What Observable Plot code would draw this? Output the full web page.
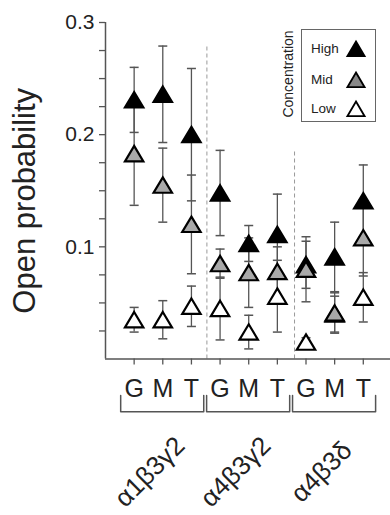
<!DOCTYPE html>
<html><head><meta charset="utf-8">
<script src="https://cdn.jsdelivr.net/npm/d3@7"></script>
<script src="https://cdn.jsdelivr.net/npm/@observablehq/plot@0.6"></script>
<style>
body{margin:0;background:#fff;}
#wrap{position:relative;width:390px;height:515px;font-family:"Liberation Sans",Arial,sans-serif;color:#222;}
#wrap svg{overflow:visible;}
#legend{position:absolute;left:301px;top:29px;width:75px;height:93px;border:1px solid #666;box-sizing:border-box;background:#fff;}
.li{position:absolute;left:9px;font-size:13.5px;line-height:14px;}
.ls{position:absolute;left:44px;}
#ltitle{position:absolute;left:288px;top:74px;font-size:14px;transform:translate(-50%,-50%) rotate(-90deg);white-space:nowrap;}
</style></head><body><div id="wrap"></div>
<script>
const receptors = ["G", "M", "T"];
const groups = ["α1β3γ2", "α4β3γ2", "α4β3δ"];
const concentrations = ["High", "Mid", "Low"];
const highMean = [0.231, 0.236, 0.200, 0.148, 0.103, 0.111, 0.084, 0.091, 0.141];
const highErr  = [0.029, 0.043, 0.059, 0.038, 0.016, 0.036, 0.021, 0.031, 0.032];
const midMean  = [0.183, 0.155, 0.120, 0.085, 0.077, 0.078, 0.080, 0.041, 0.108];
const midErr   = [0.046, 0.033, 0.044, 0.013, 0.031, 0.022, 0.029, 0.018, 0.034];
const lowMean  = [0.035, 0.035, 0.047, 0.045, 0.024, 0.056, 0.015, 0.040, 0.055];
const lowErr   = [0.011, 0.017, 0.018, 0.028, 0.015, 0.032, 0.004, 0.016, 0.022];
const yTicks = [0.025, 0.05, 0.075, 0.1, 0.125, 0.15, 0.175, 0.2, 0.225, 0.25, 0.275, 0.3];
const yTickLabels = [0.1, 0.2, 0.3];

const series = {High: [highMean, highErr], Mid: [midMean, midErr], Low: [lowMean, lowErr]};
const drawOrder = ["Low", "High", "Mid"];
const rows = [];
for (const c of drawOrder) {
  const [m, e] = series[c];
  groups.forEach((g, gi) => receptors.forEach((r, ri) => {
    const i = gi * 3 + ri;
    rows.push({i, group: g, receptor: r, conc: c, mean: m[i], err: e[i]});
  }));
}
const seps = [1, 2].map(gi => ({
  x: gi === 1 ? 2.54 : 5.6,
  top: d3.max(rows.filter(d => Math.floor(d.i / 3) === gi - 1), d => d.mean + d.err)
}));
const brackets = [];
groups.forEach((g, gi) => {
  const a = gi * 3 - 0.47, b = gi * 3 + 2.43, t = -0.0325, u = -0.047;
  brackets.push({g, x: a, y: t}, {g, x: a, y: u}, {g, x: b, y: u}, {g, x: b, y: t});
});

const tri = {draw(ctx) { ctx.moveTo(0, -7.8); ctx.lineTo(9.2, 7.6); ctx.lineTo(-9.2, 7.6); ctx.closePath(); }};
const cap = {draw(ctx) { ctx.moveTo(-4.5, 0); ctx.lineTo(4.5, 0); }};
const fillRange = ["#000000", "#a9a9a9", "#ffffff"];
const axisGray = "#555";

const chart = Plot.plot({
  width: 390, height: 515,
  marginLeft: 105, marginRight: 0, marginTop: 22, marginBottom: 156.5,
  style: {fontFamily: '"Liberation Sans", Arial, sans-serif', color: "#222", background: "#fff"},
  x: {domain: [-1, 8.95]},
  y: {domain: [0, 0.3]},
  color: {domain: concentrations, range: fillRange},
  marks: [
    Plot.ruleX(seps, {x: "x", y1: 0, y2: "top", stroke: "#999", strokeWidth: 1, strokeDasharray: "4,3"}),
    Plot.ruleX([-1], {y1: 0, y2: 0.3, stroke: axisGray, strokeWidth: 1.5}),
    Plot.ruleY([0], {stroke: axisGray, strokeWidth: 1.5}),
    Plot.axisY({ticks: yTicks, tickSize: 6, tickPadding: 5, fontSize: 21, stroke: axisGray, strokeWidth: 1.3, fill: "#222", label: null,
      tickFormat: d => yTickLabels.some(t => Math.abs(t - d) < 1e-9) ? d.toFixed(1) : ""}),
    Plot.axisX({ticks: d3.range(9), tickSize: 6, tickPadding: 14, fontSize: 25, stroke: axisGray, strokeWidth: 1.3, fill: "#222", label: null,
      tickFormat: i => receptors[i % 3]}),
    Plot.ruleX(rows, {x: "i", y1: d => d.mean - d.err, y2: d => d.mean + d.err, stroke: axisGray, strokeWidth: 1.3}),
    Plot.dot(rows, {x: "i", y: d => d.mean + d.err, symbol: cap, fill: "none", stroke: axisGray, strokeWidth: 1.5}),
    Plot.dot(rows, {x: "i", y: d => d.mean - d.err, symbol: cap, fill: "none", stroke: axisGray, strokeWidth: 1.5}),
    Plot.dot(rows, {x: "i", y: "mean", symbol: tri, fill: "conc", stroke: "#000", strokeWidth: 2.2, strokeLinejoin: "miter"}),
    Plot.line(brackets, {x: "x", y: "y", z: "g", stroke: axisGray, strokeWidth: 1.5}),
    Plot.text(groups, {x: (d, gi) => gi * 3 + 1, y: 0, text: d => d, rotate: -45, dx: -13, dy: 113, fontSize: 26, fill: "#222"}),
    Plot.text(["Open probability"], {frameAnchor: "left", textAnchor: "middle", text: d => d, rotate: -90, dx: -80, dy: 10, fontSize: 31, fill: "#222"})
  ]
});
const wrap = document.getElementById("wrap");
wrap.appendChild(chart);

// legend (HTML overlay)
const triSvg = (fill, w, h) => `<svg width="${w}" height="${h}" viewBox="-10 -9 20 17"><path d="M0,-7.5L8.6,7.2L-8.6,7.2Z" fill="${fill}" stroke="#000" stroke-width="1.8" stroke-linejoin="miter"/></svg>`;
const legend = document.createElement("div");
legend.id = "legend";
const ys = [19, 50, 79];
concentrations.forEach((c, k) => {
  const lab = document.createElement("div");
  lab.className = "li"; lab.textContent = c; lab.style.top = (ys[k] - 7) + "px";
  legend.appendChild(lab);
  const s = document.createElement("div");
  s.className = "ls"; s.style.top = (ys[k] - 9) + "px";
  s.innerHTML = triSvg(fillRange[k] === "#a9a9a9" ? "#888" : fillRange[k], 20, 17);
  legend.appendChild(s);
});
wrap.appendChild(legend);
const lt = document.createElement("div");
lt.id = "ltitle"; lt.textContent = "Concentration";
wrap.appendChild(lt);
</script></body></html>
